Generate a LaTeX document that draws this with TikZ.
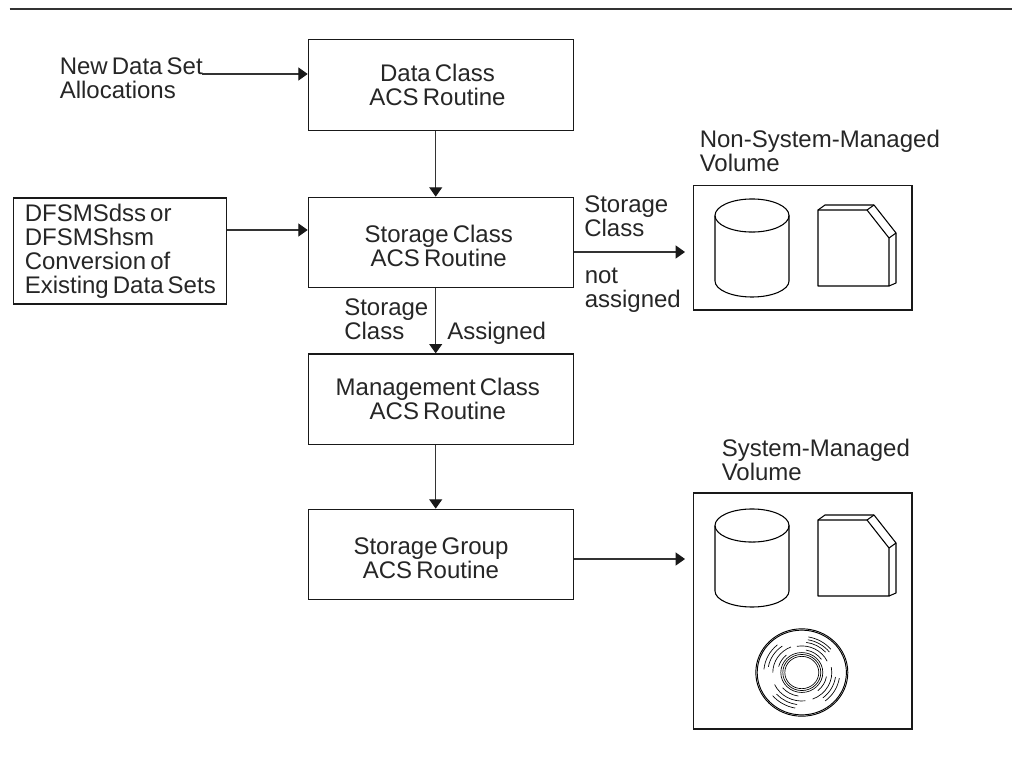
\documentclass[tikz,border=0pt]{standalone}
\usepackage{fontspec}
\setmainfont[WordSpace=0.62]{Liberation Sans}
\usetikzlibrary{arrows.meta}
\newcommand{\fl}{\rule{0pt}{13.5pt}}
\tikzset{
  flowbox/.style={draw=black!90,line width=0.9pt,fill=white,minimum width=198.75pt,minimum height=67.9pt,inner sep=0pt},
  lab/.style={align=left,anchor=north west,inner sep=0pt,font=\fontsize{18}{18}\selectfont,text=black!85},
  boxlab/.style={align=center,anchor=north,inner sep=0pt,font=\fontsize{18}{18}\selectfont,text=black!85},
  frameb/.style={draw=black!90,line width=0.9pt,fill=white,inner sep=0pt},
  flowarrow/.style={draw=black!80,line width=0.8pt,-{Triangle[length=7pt,width=9.75pt,color=black!90]}},
  art/.style={draw=black,line width=0.8pt,line join=round}
}
\begin{document}
\begin{tikzpicture}[x=0.75pt,y=-0.75pt]
\useasboundingbox (0,0) rectangle (1012,757);
\coordinate (ruleL) at (9.5,9); \coordinate (ruleR) at (1012,9);
\draw[draw=black!80,line width=0.9pt] (ruleL) -- (ruleR);

\node[flowbox] (dc) at (440.8,85) {};
\node[flowbox] (sc) at (440.8,242.5) {};
\node[flowbox] (mc) at (440.8,399.2) {};
\node[flowbox] (sg) at (440.8,554.5) {};
\node[flowbox,minimum width=160pt,minimum height=79.5pt] (conv) at (120.2,251) {};
\node[boxlab] (dct) at (437.5,63.7) {\fl Data Class\\ACS Routine};
\node[boxlab] (sct) at (438.7,224) {\fl Storage Class\\ACS Routine};
\node[boxlab] (mct) at (437.8,377.7) {\fl Management Class\\ACS Routine};
\node[boxlab] (sgt) at (431,536.3) {\fl Storage Group\\ACS Routine};
\node[lab] (convt) at (24.5,203) {\fl DFSMSdss or\\DFSMShsm\\Conversion of\\Existing Data Sets};
\node[lab] (newt) at (59.5,56) {\fl New Data Set\\Allocations};
\node[lab] (nonl) at (699.5,129) {\fl Non-System-Managed\\Volume};
\node[lab] (sysl) at (721.5,438.7) {\fl System-Managed\\Volume};
\node[lab] (l1) at (584,194) {\fl Storage\\Class};
\node[lab] (l2) at (584.5,265) {\fl not\\assigned};
\node[lab] (l3) at (344,297) {\fl Storage\\Class};
\node[lab] (l4) at (447,321) {\fl Assigned};

\node[frameb,minimum width=163.9pt,minimum height=93.4pt] (nsm) at (802.7,247.7) {};
\node[frameb,minimum width=163.9pt,minimum height=177pt] (sm) at (802.7,611) {};

\coordinate (ax) at (435.7,0);
\coordinate (a1) at (202,74);
\draw[flowarrow] (a1) -- (dc.west |- a1);
\draw[flowarrow] (ax |- dc.south) -- (ax |- sc.north);
\coordinate (a5) at (0,230);
\draw[flowarrow] (conv.east |- a5) -- (sc.west |- a5);
\draw[flowarrow] (ax |- sc.south) -- (ax |- mc.north);
\draw[flowarrow] (ax |- mc.south) -- (ax |- sg.north);
\coordinate (a3) at (685,252);
\draw[flowarrow] (sc.east |- a3) -- (a3);
\coordinate (a4) at (685,559);
\draw[flowarrow] (sg.east |- a4) -- (a4);

% Cylinder and tape
\foreach \dy in {0,310}{
\begin{scope}[yshift={-\dy*0.75pt}]
\draw[art] (752,215.5) ellipse [x radius=27.75pt,y radius=12.4pt];
\draw[art] (715,215.5) -- (715,281) arc[start angle=180,end angle=360,x radius=27.75pt,y radius=12pt] -- (789,215.5);
\draw[art] (818,210) -- (867,210) -- (889,238) -- (889,286) -- (818,286) -- cycle;
\draw[art] (818,210) -- (825,205) -- (874,205) -- (896,233) -- (896,283) -- (889,286);
\draw[art] (867,210) -- (874,205);
\draw[art] (889,238) -- (896,233);
\end{scope}}

% Disc
\begin{scope}[shift={(801.8,672.5)},x=0.75pt,y=0.7125pt]
\draw[art,line width=0.7pt] (0,0) circle [radius=46];
\draw[art,line width=0.7pt] (0,0) circle [radius=44.6];
\draw[art,line width=0.5pt] (0,0) circle [radius=17];
\draw[art,line width=0.5pt] (0,0) circle [radius=19];
\draw[art,line width=0.5pt] (0,0) circle [radius=21];
\foreach \r/\a/\b in {
 38/40/80, 35/38/80, 32/42/82, 28/25/100, 24/35/80,
 38/-52/-9, 34/-52/-8, 30/-69/11, 25/-50/-10,
 38/130/175, 34/125/170, 29/112/180, 24/130/165,
 38/220/260, 34/222/262, 30/205/277, 25/220/262}
 {\draw[art,line width=0.5pt] (\a:\r) arc[start angle=\a,end angle=\b,radius=\r];}
\end{scope}
\end{tikzpicture}
\end{document}
